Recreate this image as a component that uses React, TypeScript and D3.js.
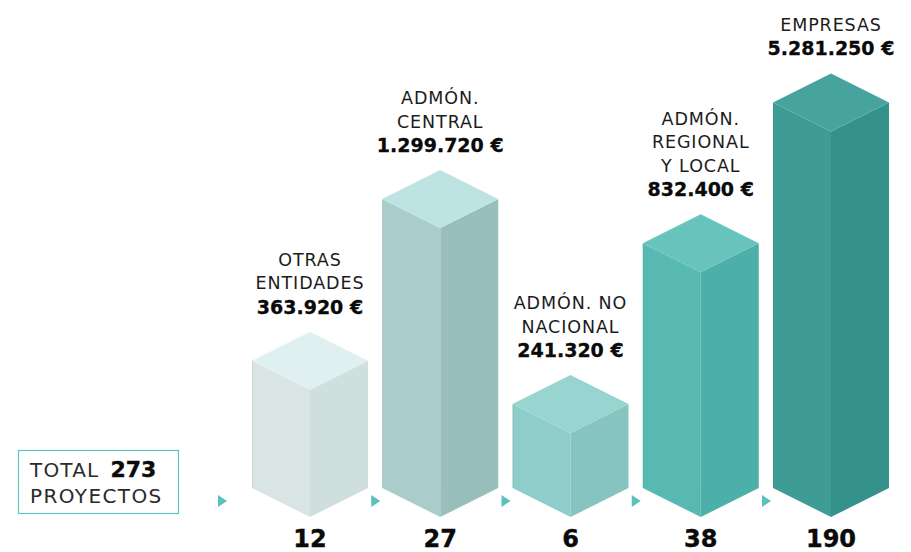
import * as d3 from "d3";

const categories = ["otras", "central", "noNacional", "regional", "empresas"];
const labelLines = [
  ["OTRAS", "ENTIDADES"],
  ["ADMÓN.", "CENTRAL"],
  ["ADMÓN. NO", "NACIONAL"],
  ["ADMÓN.", "REGIONAL", "Y LOCAL"],
  ["EMPRESAS"],
];
const amounts = [363920, 1299720, 241320, 832400, 5281250];
const projects = [12, 27, 6, 38, 190];

// top / left / right face colours for each prism
const faceColors = [
  ["#e0f0f0", "#d8e5e4", "#cfdfde"],
  ["#bde3e2", "#a8cdcb", "#98bfbc"],
  ["#98d4d0", "#8ecdc9", "#86c4c0"],
  ["#68c3bd", "#58b9b3", "#4cafa9"],
  ["#47a39e", "#3e9b95", "#34918b"],
];

const W = 911;
const H = 552;
const BASE = 517; // front-bottom vertex
const HALF = 58;
const DEPTH = 29;
const FONT = "'DejaVu Sans', sans-serif";

const fmt = d3.formatLocale({
  decimal: ",",
  thousands: ".",
  grouping: [3],
  currency: ["", " €"],
}).format(",d");

export default function App() {
  const x = d3.scalePoint<string>().domain(categories).range([310, 831]);
  // height of the prisms is a stylised (compressed) view of the amounts
  const h = d3
    .scaleLinear()
    .domain([0, 250000, 400000, 850000, 1300000, 5300000])
    .range([0, 87, 140, 249, 289, 386]);

  const total = d3.sum(projects);

  return (
    <svg
      width={W}
      height={H}
      style={{ position: "absolute", left: 0, top: 0, background: "#fff" }}
      fontFamily={FONT}
    >
      {categories.map((c, i) => {
        const cx = x(c) ?? 0;
        const front = BASE - h(amounts[i]);
        const [top, left, right] = faceColors[i];
        const topPts = [
          [cx, front - 2 * DEPTH],
          [cx + HALF, front - DEPTH],
          [cx, front],
          [cx - HALF, front - DEPTH],
        ];
        const leftPts = [
          [cx - HALF, front - DEPTH],
          [cx, front],
          [cx, BASE],
          [cx - HALF, BASE - DEPTH],
        ];
        const rightPts = [
          [cx, front],
          [cx + HALF, front - DEPTH],
          [cx + HALF, BASE - DEPTH],
          [cx, BASE],
        ];
        const p = (pts: number[][]) => pts.map((q) => q.join(",")).join(" ");
        const valueY = front - 2 * DEPTH - 25;
        const lines = labelLines[i];
        const triX = i === 0 ? cx - 88 : cx - 65;
        return (
          <g key={c}>
            <polygon points={p(leftPts)} fill={left} />
            <polygon points={p(rightPts)} fill={right} />
            <polygon points={p(topPts)} fill={top} />
            <line
              x1={cx - HALF + 0.5}
              x2={cx - HALF + 0.5}
              y1={front - DEPTH}
              y2={BASE - DEPTH}
              stroke="#000"
              strokeOpacity={0.06}
            />
            {lines.map((t, j) => (
              <text
                key={j}
                x={cx}
                y={valueY - (lines.length - j) * 23.5 + 6}
                textAnchor="middle"
                fontSize={17.5}
                letterSpacing={0.9}
                fill="#1c1c1c"
              >
                {t}
              </text>
            ))}
            <text
              x={cx}
              y={valueY + 7}
              textAnchor="middle"
              fontSize={19}
              fontWeight="bold"
              fill="#0a0a0a"
              stroke="#0a0a0a"
              strokeWidth={0.3}
            >
              {fmt(amounts[i])} €
            </text>
            <text
              x={cx}
              y={547}
              textAnchor="middle"
              fontSize={24}
              fontWeight="bold"
              fill="#0a0a0a"
              stroke="#0a0a0a"
              strokeWidth={0.4}
            >
              {projects[i]}
            </text>
            <polygon
              points={`${triX - 4},${495} ${triX + 5},${501} ${triX - 4},${507}`}
              fill="#5cc0bb"
            />
          </g>
        );
      })}

      <rect
        x={18.5}
        y={450.5}
        width={160}
        height={63}
        fill="none"
        stroke="#5cc5bf"
        strokeWidth={1.2}
      />
      <text x={30} y={477} fontSize={20} letterSpacing={1.2} fill="#2a2a2a">
        TOTAL
        <tspan
          dx={11}
          fontWeight="bold"
          fontSize={22}
          letterSpacing={0}
          fill="#0a0a0a"
          stroke="#0a0a0a"
          strokeWidth={0.4}
        >
          {total}
        </tspan>
      </text>
      <text x={30} y={503} fontSize={20} letterSpacing={1.4} fill="#2a2a2a">
        PROYECTOS
      </text>
    </svg>
  );
}
